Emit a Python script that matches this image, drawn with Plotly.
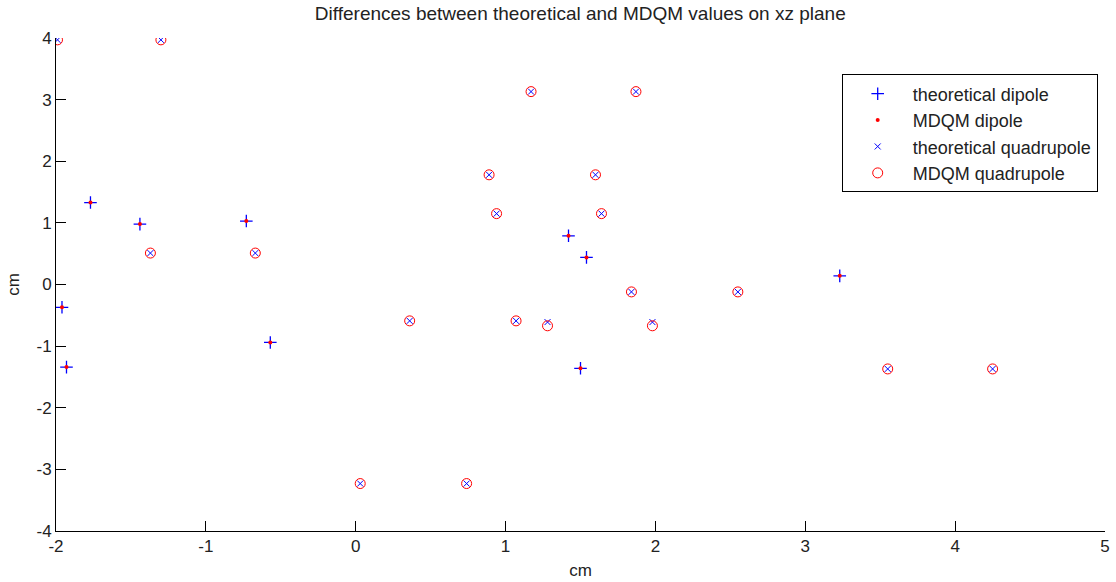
import plotly.graph_objects as go

# Dipole positions (cm)
dip_x = [-1.77, -1.44, -0.73, -1.96, -1.93, -0.57, 1.42, 1.54, 1.50, 3.23]
dip_z_theo = [1.33, 0.98, 1.03, -0.37, -1.34, -0.94, 0.79, 0.44, -1.36, 0.14]
dip_z_mdqm = [1.33, 0.98, 1.03, -0.37, -1.34, -0.94, 0.79, 0.44, -1.36, 0.14]

# Quadrupole positions (cm)
quad_x = [-1.99, -1.30, -1.37, -0.67, 0.03, 0.74, 0.89, 1.60, 0.94, 1.64,
          1.17, 1.87, 1.84, 2.55, 0.36, 1.07, 1.28, 1.98, 3.55, 4.25]
quad_z_theo = [3.97, 3.97, 0.51, 0.51, -3.23, -3.23, 1.78, 1.78, 1.15, 1.15,
               3.13, 3.13, -0.12, -0.12, -0.59, -0.59, -0.61, -0.61, -1.37, -1.37]
quad_z_mdqm = [3.97, 3.97, 0.51, 0.51, -3.23, -3.23, 1.78, 1.78, 1.15, 1.15,
               3.13, 3.13, -0.12, -0.12, -0.59, -0.59, -0.67, -0.67, -1.37, -1.37]

x_ticks = [-2, -1, 0, 1, 2, 3, 4, 5]
x_labels = ["-2", "-1", "0", "1", "2", "3", "4", "5"]
y_ticks = [-4, -3, -2, -1, 0, 1, 2, 3, 4]
y_labels = ["-4", "-3", "-2", "-1", "0", "1", "2", "3", "4"]

BLUE = "#0000FF"
RED = "#FF0000"
FONT = "Liberation Sans, Arial, sans-serif"
TXT = "#222222"

fig = go.Figure()
fig.add_trace(go.Scatter(
    x=dip_x, y=dip_z_theo, mode="markers", name="theoretical dipole",
    marker=dict(symbol="cross-thin-open", size=9, color=BLUE,
                line=dict(color=BLUE, width=1.3))))
fig.add_trace(go.Scatter(
    x=dip_x, y=dip_z_mdqm, mode="markers", name="MDQM dipole",
    marker=dict(symbol="circle", size=4, color=RED, line=dict(width=0))))
fig.add_trace(go.Scatter(
    x=quad_x, y=quad_z_theo, mode="markers", name="theoretical quadrupole",
    marker=dict(symbol="x-thin-open", size=6, color=BLUE,
                line=dict(color=BLUE, width=1))))
fig.add_trace(go.Scatter(
    x=quad_x, y=quad_z_mdqm, mode="markers", name="MDQM quadrupole",
    marker=dict(symbol="circle-open", size=10, color=RED,
                line=dict(color=RED, width=1))))

axis_common = dict(
    showgrid=False, zeroline=False, showline=True, linecolor="black",
    linewidth=1, mirror=False, ticks="inside", ticklen=10, tickcolor="black",
    tickwidth=1, automargin=False,
    tickfont=dict(family=FONT, size=17, color=TXT),
)

fig.update_layout(
    width=1116, height=582,
    margin=dict(l=56, r=11, t=38, b=51),
    paper_bgcolor="white", plot_bgcolor="white",
    font=dict(family=FONT, size=17, color=TXT),
    title=dict(text="Differences between theoretical and MDQM values on xz plane",
               x=0.52, xanchor="center", y=0.977, yanchor="middle",
               font=dict(family=FONT, size=19, color=TXT)),
    xaxis=dict(range=[-2, 5], tickvals=x_ticks, ticktext=x_labels,
               title=dict(text="cm", standoff=8, font=dict(size=17)),
               **axis_common),
    yaxis=dict(range=[-4, 4], tickvals=y_ticks, ticktext=y_labels,
               title=dict(text="cm", standoff=12, font=dict(size=17)),
               **axis_common),
    legend=dict(x=0.749, y=0.926, xanchor="left", yanchor="top",
                bordercolor="black", borderwidth=1, bgcolor="white",
                font=dict(family=FONT, size=18, color=TXT),
                itemwidth=60, tracegroupgap=0),
    showlegend=True,
)

fig.write_html("out.html",
               config={"displayModeBar": False},
               post_script="document.body.style.margin='0';document.body.style.padding='0';")
